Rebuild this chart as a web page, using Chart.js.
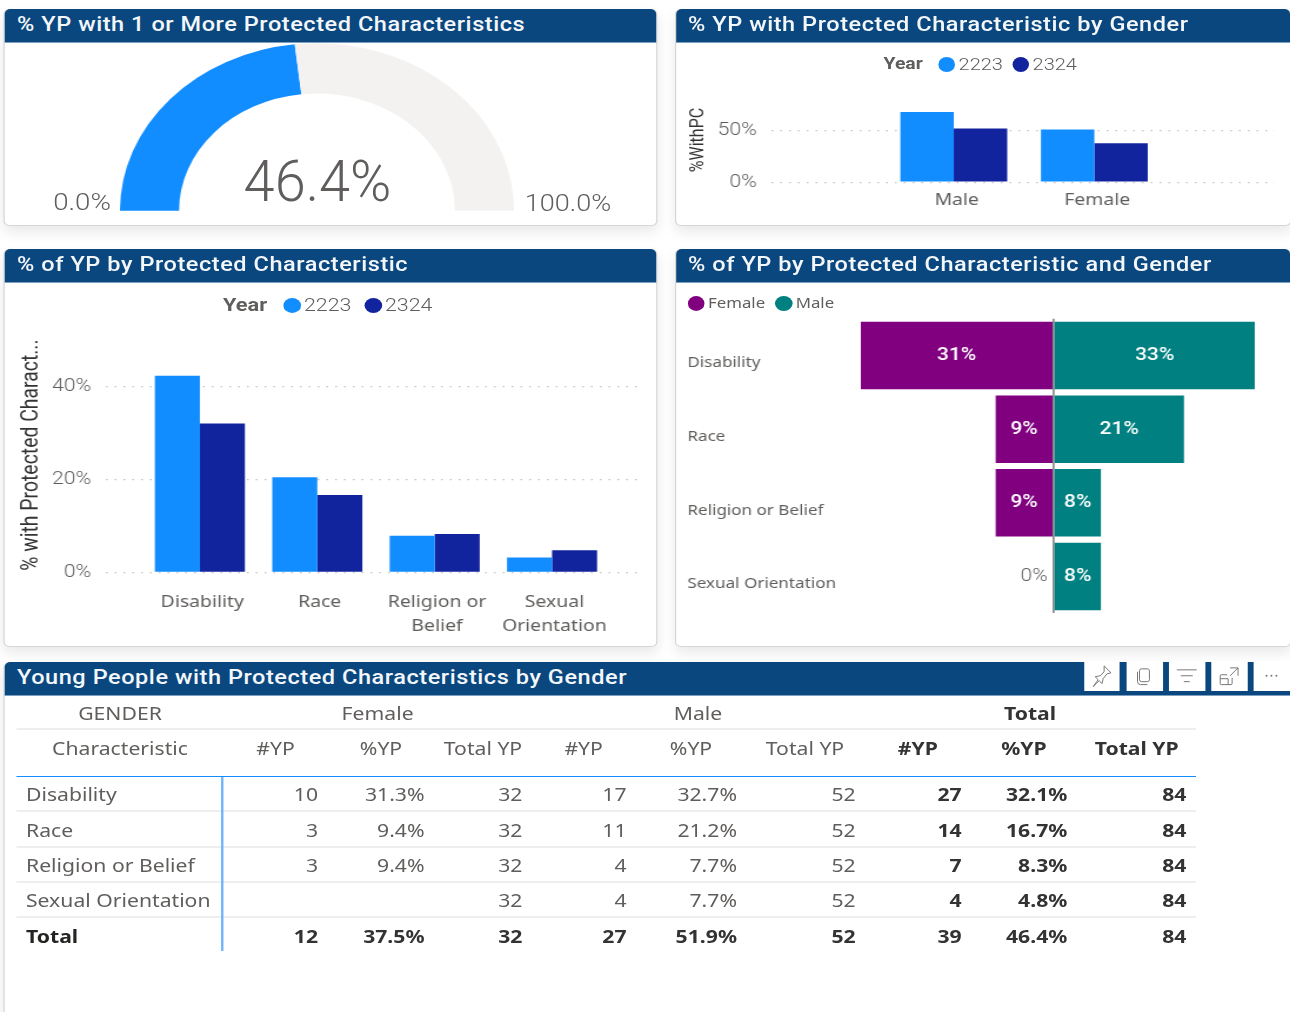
<!DOCTYPE html>
<html><head><meta charset="utf-8">
<script src="https://cdn.jsdelivr.net/npm/chart.js@4/dist/chart.umd.js"></script>
<style>
html,body{margin:0;padding:0;background:#fff;overflow:hidden;width:1290px;height:1012px}
#stage{position:absolute;left:0;top:0;height:1012px;transform-origin:0 0;overflow:hidden}
.card{position:absolute;background:#fff;border:1px solid #d6d6d6;border-radius:5px;box-sizing:border-box;box-shadow:0 6px 12px rgba(0,0,0,.09)}
.head{position:absolute;left:0;right:0;top:-1px;height:34px;background:#0A477F;border-radius:5px 5px 0 0;border-bottom:1px solid #7ea0c0;box-sizing:border-box}
.t{position:absolute;white-space:nowrap;line-height:1}
canvas{position:absolute}
</style></head><body><div id="stage"></div>
<script>
// ---------- data ----------
const gaugeValue = 46.4, gaugeRest = 53.6;
const gaugeMin = '0.0%', gaugeMax = '100.0%', gaugeLabel = '46.4%';
const yearNames = ['2223', '2324'];
const genderCats = ['Male', 'Female'];
const gender2223 = [67.7, 50.9];
const gender2324 = [51.9, 37.5];
const charCats = ['Disability', 'Race', 'Religion or Belief', 'Sexual Orientation'];
const charTickLabels = [['Disability'], ['Race'], ['Religion or', 'Belief'], ['Sexual', 'Orientation']];
const char2223 = [42.4, 20.5, 7.9, 3.2];
const char2324 = [32.1, 16.7, 8.3, 4.8];
const femalePct = [31.3, 9.4, 9.4, 0];
const malePct = [32.7, 21.2, 7.7, 7.7];
const tableLabels = ['Disability', 'Race', 'Religion or Belief', 'Sexual Orientation', 'Total'];
const tblFemaleN = ['10', '3', '3', '', '12'];
const tblFemaleP = ['31.3%', '9.4%', '9.4%', '', '37.5%'];
const tblFemaleT = ['32', '32', '32', '32', '32'];
const tblMaleN = ['17', '11', '4', '4', '27'];
const tblMaleP = ['32.7%', '21.2%', '7.7%', '7.7%', '51.9%'];
const tblMaleT = ['52', '52', '52', '52', '52'];
const tblAllN = ['27', '14', '7', '4', '39'];
const tblAllP = ['32.1%', '16.7%', '8.3%', '4.8%', '46.4%'];
const tblAllT = ['84', '84', '84', '84', '84'];
const colHeads = ['#YP', '%YP', 'Total YP', '#YP', '%YP', 'Total YP', '#YP', '%YP', 'Total YP'];

// ---------- layout helpers ----------
const SX = 1.176;
const X = v => v / SX;
const stage = document.getElementById('stage');
stage.style.width = X(1290) + 'px';
stage.style.transform = `scaleX(${SX})`;
const DIN = 'Roboto, sans-serif', SEG = '"Noto Sans", sans-serif';
const GREY = '#605E5C', BLUE = '#118DFF', NAVY = '#12239E', PURPLE = '#800080', TEAL = '#008080';

function text(str, x, cy, o = {}) {
  const d = document.createElement('div');
  d.className = 't';
  d.textContent = str;
  const a = o.align || 'left';
  d.style.left = X(x) + 'px';
  d.style.top = cy + 'px';
  d.style.font = `${o.weight || 400} ${o.size || 16}px ${o.family || SEG}`;
  d.style.lineHeight = '1';
  d.style.color = o.color || GREY;
  if (o.spacing) d.style.letterSpacing = o.spacing + 'px';
  const tx = a === 'center' ? '-50%' : a === 'right' ? '-100%' : '0';
  d.style.transform = `translate(${tx},-50%)` + (o.sx ? ` scaleX(${o.sx})` : '');
  if (o.sx) d.style.transformOrigin = a === 'center' ? '50% 50%' : a === 'right' ? '100% 50%' : '0 50%';
  stage.appendChild(d);
  return d;
}
function card(x0, y0, x1, y1, title, size) {
  const c = document.createElement('div');
  c.className = 'card';
  c.style.cssText = `left:${X(x0)}px;top:${y0}px;width:${X(x1 - x0)}px;height:${y1 - y0}px`;
  c.innerHTML = '<div class="head"></div>';
  stage.appendChild(c);
  text(title, 17 + (x0 > 100 ? x0 - 4 : 0), y0 + 14.5, {size: size || 20, weight: 500, family: DIN, color: '#F4F7FA', spacing: .47});
}
function dot(x0, x1, cy, color) {
  const d = document.createElement('div');
  const w = X(x1 - x0), h = 15;
  d.style.cssText = `position:absolute;left:${X(x0)}px;top:${cy - h / 2}px;width:${w}px;height:${h}px;border-radius:50%;background:${color}`;
  stage.appendChild(d);
}
function line(x0, x1, y, color, h) {
  const d = document.createElement('div');
  d.style.cssText = `position:absolute;left:${X(x0)}px;top:${y - h / 2}px;width:${X(x1 - x0)}px;height:${h}px;background:${color}`;
  stage.appendChild(d);
}
function canvasAt(x0, y0, x1, y1) {
  const c = document.createElement('canvas');
  c.width = X(x1 - x0); c.height = y1 - y0;
  c.style.left = X(x0) + 'px'; c.style.top = y0 + 'px';
  stage.appendChild(c);
  return c.getContext('2d');
}

// ---------- cards ----------
card(4, 9, 657, 226, '% YP with 1 or More Protected Characteristics');
card(675, 9, 1291, 226, '% YP with Protected Characteristic by Gender');
card(4, 249, 657, 647, '% of YP by Protected Characteristic');
card(675, 249, 1291, 647, '% of YP by Protected Characteristic and Gender');
card(4, 662, 1291, 1030, 'Young People with Protected Characteristics by Gender');

Chart.defaults.animation = false;
const noPlug = {legend: {display: false}, tooltip: {enabled: false}};

// ---------- gauge ----------
new Chart(canvasAt(120, 43, 515, 211), {
  type: 'doughnut',
  data: {datasets: [{data: [gaugeValue, gaugeRest], backgroundColor: [BLUE, '#F3F2F1'], borderWidth: 0}]},
  options: {responsive: false, rotation: -90, circumference: 180, cutout: '70%', plugins: noPlug}
});
text(gaugeLabel, 318, 181, {align: 'center', size: 58, weight: 300, family: DIN, sx: .82, color: '#605E5C'});
text(gaugeMin, 82, 203, {align: 'center', size: 23.5, weight: 300, family: DIN});
text(gaugeMax, 568, 203, {align: 'center', size: 23, weight: 300, family: DIN});

// ---------- grouped bars ----------
function grouped(ctx, o) {
  new Chart(ctx, {
    type: 'bar',
    data: {datasets: o.series.map((s, k) => ({
      label: yearNames[k], backgroundColor: k ? NAVY : BLUE,
      data: s.map((v, i) => ({x: i, y: v})),
      categoryPercentage: o.catPct, barPercentage: 1
    }))},
    options: {
      responsive: false,
      plugins: noPlug,
      layout: {padding: o.padding},
      scales: {
        x: {
          type: 'linear', min: o.xMin, max: o.xMax, offset: false,
          grid: {display: false, drawTicks: false, offset: false}, border: {display: false},
          afterBuildTicks: a => { a.ticks = o.xs.map((_, i) => ({value: i})); },
          afterFit: a => { a.height = o.xHeight; },
          ticks: {
            autoSkip: false, maxRotation: 0, minRotation: 0, padding: o.xPad, labelOffset: o.labelOffset,
            color: GREY, font: {family: SEG, size: 16.5, lineHeight: 23.3 / 16.5},
            callback: v => o.xs[v]
          }
        },
        y: {
          min: 0, max: o.yMax,
          afterFit: a => { a.width = o.yWidth; },
          grid: {color: '#c4c4c4', lineWidth: 1.2, drawTicks: false},
          border: {display: false, dash: [1.5, 6]},
          ticks: {stepSize: o.yStep, includeBounds: false, padding: 13, color: GREY, font: {family: DIN, size: 18, weight: 300}, callback: v => v + '%'},
          title: {display: true, text: o.yTitle, color: '#333', padding: 0, font: {family: DIN, size: o.titleSize, weight: 400}}
        }
      }
    }
  });
}
// gender
grouped(canvasAt(677, 74.3, 1287, 222), {
  xs: genderCats, series: [gender2223, gender2324], catPct: .76,
  xMin: (771.6 - 953.7) / 140.8, xMax: (1275 - 953.7) / 140.8,
  yMax: 81.5, yStep: 50, yTitle: '%WithPC', titleSize: 16,
  padding: {left: X(10), right: X(12), top: 0, bottom: 0},
  yWidth: X(771.6 - 687), xHeight: 38.8, xPad: 6.5, labelOffset: 2.5
});
// characteristic
grouped(canvasAt(6, 314, 655, 642), {
  xs: charTickLabels, series: [char2223, char2324], catPct: .767,
  xMin: (106.5 - 200) / 117.4, xMax: (644 - 200) / 117.4,
  yMax: 50.6, yStep: 20, yTitle: '% with Protected Charact...', titleSize: 19.4,
  padding: {left: X(12), right: X(10), top: 0, bottom: 0},
  yWidth: X(106.5 - 18), xHeight: 69.6, xPad: 18.5, labelOffset: 2
});

// legends
text('Year', 883.5, 64, {size: 16.5, weight: 700, family: DIN});
dot(938, 955.5, 64, BLUE); text(yearNames[0], 958.6, 64, {size: 17, family: DIN, weight: 300});
dot(1012.4, 1029, 64, NAVY); text(yearNames[1], 1032.6, 64, {size: 17, family: DIN, weight: 300});
text('Year', 223, 305, {size: 18.5, weight: 700, family: DIN});
dot(283, 301, 305, BLUE); text(yearNames[0], 304, 305, {size: 18.2, family: DIN, weight: 300});
dot(364, 381.7, 305, NAVY); text(yearNames[1], 385, 305, {size: 18.2, family: DIN, weight: 300});
dot(688, 705, 303, PURPLE); text('Female', 708, 303, {size: 14.3, family: SEG});
dot(775, 792.6, 303, TEAL); text('Male', 795.7, 303, {size: 14.3, family: SEG});

// ---------- tornado ----------
const barLabels = {
  id: 'barLabels',
  afterDatasetsDraw(chart) {
    const c = chart.ctx;
    chart.data.datasets.forEach((ds, k) => {
      chart.getDatasetMeta(k).data.forEach((el, i) => {
        const v = Math.abs(ds.data[i]);
        const s = Math.round(v) + '%';
        c.save();
        c.font = `500 17.8px ${DIN}`;
        c.textBaseline = 'middle';
        if (v === 0) {
          c.fillStyle = GREY; c.textAlign = 'right'; c.font = `300 17.8px ${DIN}`;
          c.fillText(s, el.x - 5, el.y);
        } else {
          c.fillStyle = '#fff'; c.textAlign = 'center';
          c.fillText(s, (el.x + el.base) / 2, el.y);
        }
        c.restore();
      });
    });
  }
};
new Chart(canvasAt(677, 310, 1287, 622.5), {
  type: 'bar',
  data: {
    labels: charCats,
    datasets: [
      {label: 'Female', data: femalePct.map(v => -v), backgroundColor: PURPLE, categoryPercentage: .916, barPercentage: 1},
      {label: 'Male', data: malePct, backgroundColor: TEAL, categoryPercentage: .916, barPercentage: 1}
    ]
  },
  plugins: [barLabels],
  options: {
    responsive: false, indexAxis: 'y', plugins: noPlug,
    layout: {padding: {left: X(10), right: X(17), top: 0, bottom: 0}},
    scales: {
      x: {
        stacked: true, min: -33, max: 35.1, border: {display: false},
        ticks: {display: false, stepSize: 10, includeBounds: false},
        afterFit: a => { a.height = 0; },
        grid: {drawTicks: false, lineWidth: 1.7, color: c => c.tick && c.tick.value === 0 ? '#8a8a8a' : 'transparent'}
      },
      y: {
        stacked: true, grid: {display: false}, border: {display: false},
        afterFit: a => { a.width = X(850 - 687); },
        ticks: {crossAlign: 'far', padding: 0, labelOffset: 7.6, color: GREY, font: {family: SEG, size: 14.5}}
      }
    }
  }
});

// ---------- table ----------
const rowYs = [794, 830, 865.3, 900.3, 936];
const rights = [318, 424.5, 522.4, 626.5, 737, 855.6, 961.7, 1067.4, 1186.4];
const headCx = [275.5, 381, 483, 583.7, 691, 805, 917.8, 1024, 1136.7];
const cols = [tblFemaleN, tblFemaleP, tblFemaleT, tblMaleN, tblMaleP, tblMaleT, tblAllN, tblAllP, tblAllT];
const TS = 18;
line(17, 1196, 729, '#eeeeee', 2);
line(17, 1196, 776.7, '#118DFF', 1.6);
[811, 846.7, 882, 917].forEach(y => line(17, 1196, y, '#eeeeee', 2));
const v = document.createElement('div');
v.style.cssText = `position:absolute;left:${X(221.5)}px;top:777px;width:${X(2)}px;height:174px;background:#6DB3F5`;
stage.appendChild(v);
text('GENDER', 120, 713, {align: 'center', size: TS});
text('Female', 377.6, 713, {align: 'center', size: TS});
text('Male', 698, 713, {align: 'center', size: TS});
text('Total', 1030, 713, {align: 'center', size: TS, weight: 700, color: '#333'});
text('Characteristic', 120, 748, {align: 'center', size: TS});
colHeads.forEach((h, i) => text(h, headCx[i], 748, {align: 'center', size: TS, weight: i > 5 ? 700 : 400, color: i > 5 ? '#333' : GREY}));
tableLabels.forEach((l, r) => {
  const total = r === 4;
  text(l, 26, rowYs[r], {size: TS, weight: total ? 700 : 400, color: total ? '#252423' : GREY});
  cols.forEach((col, i) => {
    const bold = total || i > 5;
    if (col[r]) text(col[r], rights[i], rowYs[r], {align: 'right', size: TS, weight: bold ? 700 : 400, color: bold ? '#333' : GREY});
  });
});

// ---------- visual header toolbar ----------
const icons = [
  '<path d="M20 5l7 7-4 1-4 5-1 5-3-3-6 6 5-7-3-3 5-1 4-4z" fill="none" stroke="#777" stroke-width="1"/>',
  '<rect x="13" y="8" width="10" height="13" rx="2" fill="none" stroke="#777"/><path d="M11 11v10a3 3 0 0 0 3 3h7" fill="none" stroke="#777"/>',
  '<path d="M8 9h20M12 15h12M15 21h6" stroke="#777"/>',
  '<path d="M19 7h8v8M27 7l-8 8M21 17v6a1 1 0 0 1-1 1H10a1 1 0 0 1-1-1V15a1 1 0 0 1 1-1h6M9 18h8v6" fill="none" stroke="#777"/>',
  '<circle cx="13" cy="15" r="1" fill="#777"/><circle cx="18" cy="15" r="1" fill="#777"/><circle cx="23" cy="15" r="1" fill="#777"/>'
];
[1084.4, 1127, 1169.4, 1211.7, 1254].forEach((x, i) => {
  const d = document.createElement('div');
  d.style.cssText = `position:absolute;left:${X(x)}px;top:661px;width:${X(35.7)}px;height:29.5px;background:#fff`;
  d.innerHTML = `<svg width="100%" height="100%" viewBox="0 0 36 30" preserveAspectRatio="none">${icons[i]}</svg>`;
  stage.appendChild(d);
});
</script></body></html>
